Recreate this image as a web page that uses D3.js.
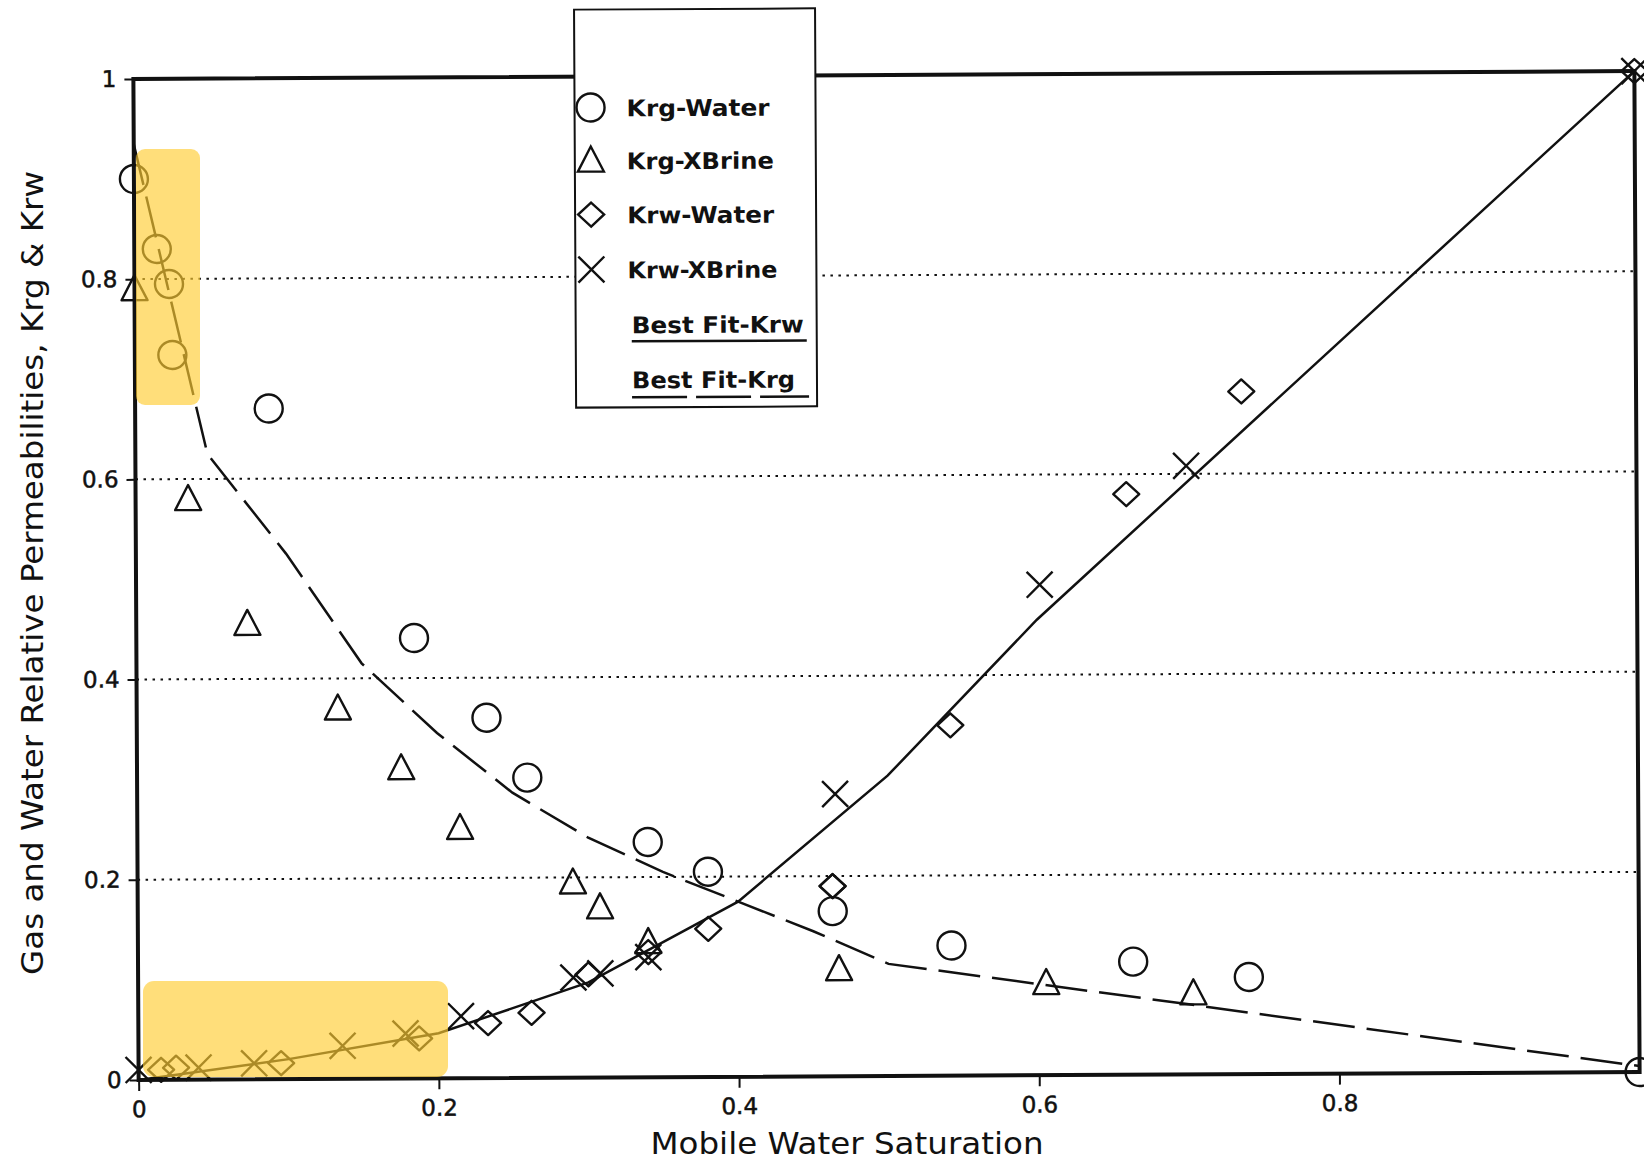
<!DOCTYPE html>
<html>
<head>
<meta charset="utf-8">
<script src="https://cdn.jsdelivr.net/npm/d3@7"></script>
<style>
  html, body { margin: 0; padding: 0; background: #fff; }
  svg { display: block; }
</style>
</head>
<body>
<svg id="chart" width="1644" height="1162"></svg>
<script>
// ---- measured relative permeabilities vs. mobile water saturation ----
const krgWaterSw = [0.0, 0.015, 0.023, 0.025, 0.089, 0.185, 0.233, 0.26, 0.34, 0.38, 0.463, 0.542, 0.663, 0.74, 1.0];
const krgWater   = [0.90, 0.83, 0.795, 0.724, 0.67, 0.44, 0.36, 0.30, 0.235, 0.205, 0.165, 0.13, 0.113, 0.097, 0.0];

const krgBrineSw = [0.0, 0.035, 0.074, 0.134, 0.176, 0.215, 0.29, 0.308, 0.34, 0.467, 0.605, 0.703];
const krgBrine   = [0.79, 0.58, 0.455, 0.37, 0.31, 0.25, 0.195, 0.17, 0.135, 0.107, 0.092, 0.081];

const krwWaterSw = [0.015, 0.025, 0.095, 0.187, 0.233, 0.262, 0.30, 0.34, 0.38, 0.463, 0.463, 0.542, 0.66, 0.737, 1.0];
const krwWater   = [0.01, 0.012, 0.016, 0.04, 0.055, 0.065, 0.103, 0.125, 0.148, 0.19, 0.19, 0.35, 0.58, 0.682, 1.0];

const krwBrineSw = [0.0, 0.04, 0.077, 0.136, 0.178, 0.215, 0.29, 0.308, 0.34, 0.465, 0.602, 0.70, 1.0];
const krwBrine   = [0.01, 0.012, 0.016, 0.033, 0.045, 0.062, 0.10, 0.104, 0.12, 0.282, 0.49, 0.608, 1.0];

// ---- best-fit curves ----
const fitKrwSw = [0.0, 0.1, 0.2, 0.3, 0.4, 0.5, 0.6, 1.0];
const fitKrw   = [0.0, 0.02, 0.045, 0.095, 0.175, 0.30, 0.455, 1.0];

const fitKrgSw = [0.0, 0.048, 0.1, 0.15, 0.2, 0.25, 0.3, 0.35, 0.4, 0.45, 0.5, 0.7, 1.0];
const fitKrg   = [0.935, 0.625, 0.525, 0.415, 0.345, 0.285, 0.24, 0.205, 0.175, 0.145, 0.112, 0.07, 0.006];

// ---- axes ----
const xTickValues = [0, 0.2, 0.4, 0.6, 0.8];
const yTickValues = [0, 0.2, 0.4, 0.6, 0.8, 1];
const gridValues  = [0.2, 0.4, 0.6, 0.8];

const legendLabels = ["Krg-Water", "Krg-XBrine", "Krw-Water", "Krw-XBrine", "Best Fit-Krw", "Best Fit-Krg"];

const xTitle = "Mobile Water Saturation";
const yTitle = "Gas and Water Relative Permeabilities, Krg & Krw";

// ---------------------------------------------------------------
const svg = d3.select("#chart");
const FONT = "'DejaVu Sans', 'Liberation Sans', sans-serif";
const INK = "#111";

const x = d3.scaleLinear().domain([0, 1]).range([136, 1637]);
const y = d3.scaleLinear().domain([0, 1]).range([1076, 75]);

// the printed page sits slightly askew
const root = svg.append("g").attr("transform", "rotate(-0.3, 886, 575)");

// dotted horizontal grid
root.append("g").selectAll("line")
  .data(gridValues)
  .join("line")
  .attr("x1", x(0)).attr("x2", x(1))
  .attr("y1", d => y(d)).attr("y2", d => y(d))
  .attr("stroke", INK).attr("stroke-width", 2)
  .attr("stroke-dasharray", "2.5,5.5");

const fmt = d => (d === 0 ? "0" : d === 1 ? "1" : d3.format(".1f")(d));

const xAxis = root.append("g")
  .attr("transform", `translate(0,${y(0)})`)
  .call(d3.axisBottom(x).tickValues(xTickValues).tickSize(11).tickPadding(10).tickFormat(fmt));
const yAxis = root.append("g")
  .attr("transform", `translate(${x(0)},0)`)
  .call(d3.axisLeft(y).tickValues(yTickValues).tickSize(9).tickPadding(8).tickFormat(fmt));

[xAxis, yAxis].forEach(a => {
  a.select(".domain").remove();
  a.selectAll(".tick line").attr("stroke", INK).attr("stroke-width", 2);
  a.selectAll(".tick text")
    .attr("fill", INK)
    .attr("stroke", INK).attr("stroke-width", 0.5)
    .style("font-family", FONT)
    .style("font-size", "23px");
});

// plot frame
root.append("rect")
  .attr("x", x(0)).attr("y", y(1))
  .attr("width", x(1) - x(0)).attr("height", y(0) - y(1))
  .attr("fill", "none").attr("stroke", INK).attr("stroke-width", 4);

// best-fit lines
const line = d3.line().x(d => x(d[0])).y(d => y(d[1])).curve(d3.curveLinear);

root.append("path")
  .datum(d3.zip(fitKrwSw, fitKrw))
  .attr("d", line)
  .attr("fill", "none").attr("stroke", INK).attr("stroke-width", 2.5);

root.append("path")
  .datum(d3.zip(fitKrgSw, fitKrg))
  .attr("d", line)
  .attr("fill", "none").attr("stroke", INK).attr("stroke-width", 2.5)
  .attr("stroke-dasharray", "42,12");

// marker shapes
const shapes = {
  circle:   "M14,0A14,14 0 1,1 -14,0A14,14 0 1,1 14,0Z",
  triangle: "M0,-14L13,11L-13,11Z",
  diamond:  "M0,-12L13,0L0,12L-13,0Z",
  cross:    "M-13,-13L13,13M13,-13L-13,13"
};

function drawMarkers(xs, ys, shape) {
  root.append("g").selectAll("path")
    .data(d3.zip(xs, ys))
    .join("path")
    .attr("transform", d => `translate(${x(d[0])},${y(d[1])})`)
    .attr("d", shapes[shape])
    .attr("fill", "none").attr("stroke", INK).attr("stroke-width", 2.4)
    .attr("stroke-linejoin", "round");
}

drawMarkers(krgWaterSw, krgWater, "circle");
drawMarkers(krgBrineSw, krgBrine, "triangle");
drawMarkers(krwWaterSw, krwWater, "diamond");
drawMarkers(krwBrineSw, krwBrine, "cross");

// legend
const lg = root.append("g");
lg.append("rect")
  .attr("x", 577).attr("y", 8).attr("width", 241).attr("height", 398)
  .attr("fill", "#fff").attr("stroke", INK).attr("stroke-width", 2);

const rowY = [106, 159, 213, 268, 323, 378];
const legendShapes = ["circle", "triangle", "diamond", "cross"];
const textWidths = [143, 147, 147, 150, 172, 163];

legendShapes.forEach((s, i) => {
  lg.append("path")
    .attr("transform", `translate(593,${rowY[i]})`)
    .attr("d", shapes[s])
    .attr("fill", "none").attr("stroke", INK).attr("stroke-width", 2.4);
});

legendLabels.forEach((t, i) => {
  lg.append("text")
    .attr("x", i < 4 ? 629 : 633)
    .attr("y", rowY[i] + 9)
    .attr("textLength", textWidths[i])
    .attr("lengthAdjust", "spacingAndGlyphs")
    .attr("fill", INK)
    .style("font-family", FONT)
    .style("font-weight", "bold")
    .style("font-size", "23px")
    .text(t);
});

// line samples under the fit labels
lg.append("line")
  .attr("x1", 633).attr("x2", 808).attr("y1", 340).attr("y2", 340)
  .attr("stroke", INK).attr("stroke-width", 2.5);
lg.append("line")
  .attr("x1", 633).attr("x2", 810).attr("y1", 396).attr("y2", 396)
  .attr("stroke", INK).attr("stroke-width", 2.5)
  .attr("stroke-dasharray", "55,9");

// axis titles
svg.append("text")
  .attr("x", 847).attr("y", 1154)
  .attr("text-anchor", "middle")
  .attr("textLength", 393).attr("lengthAdjust", "spacingAndGlyphs")
  .attr("fill", INK)
  .style("font-family", FONT).style("font-size", "31px")
  .text(xTitle);

svg.append("text")
  .attr("transform", "translate(43,573) rotate(-90)")
  .attr("text-anchor", "middle")
  .attr("textLength", 804).attr("lengthAdjust", "spacingAndGlyphs")
  .attr("fill", INK)
  .style("font-family", FONT).style("font-size", "31px")
  .text(yTitle);

// yellow highlighter marks
const hl = svg.append("g");
hl.append("rect")
  .attr("x", 136).attr("y", 149).attr("width", 64).attr("height", 256).attr("rx", 9)
  .attr("fill", "#FFCC33").attr("opacity", 0.65);
hl.append("rect")
  .attr("x", 143).attr("y", 981).attr("width", 305).attr("height", 96).attr("rx", 11)
  .attr("fill", "#FFCC33").attr("opacity", 0.65);
</script>
</body>
</html>
